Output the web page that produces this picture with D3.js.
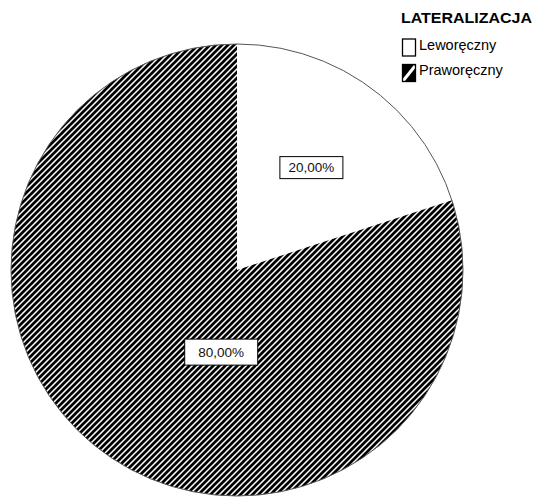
<!DOCTYPE html>
<html>
<head>
<meta charset="utf-8">
<script src="https://cdn.jsdelivr.net/npm/d3@7"></script>
<style>
  html, body { margin: 0; padding: 0; background: #fff; }
  svg { display: block; font-family: "Liberation Sans", Arial, sans-serif; }
</style>
</head>
<body>
<svg id="chart" width="536" height="497"></svg>
<script>
// Handedness split
const categories = ["Leworęczny", "Praworęczny"];
const shares = [20, 80];
const valueLabels = ["20,00%", "80,00%"];
const legendTitle = "LATERALIZACJA";

const W = 536, H = 497;
const cx = 237, cy = 270, R = 226;

const svg = d3.select("#chart");
const defs = svg.append("defs");

// Diagonal hatch used for the right-handed slice
const hatch = defs.append("pattern")
  .attr("id", "hatch")
  .attr("patternUnits", "userSpaceOnUse")
  .attr("width", 6).attr("height", 6);
hatch.append("rect").attr("width", 6).attr("height", 6).attr("fill", "#fff");
hatch.append("path")
  .attr("d", "M-1.5,1.5 l3,-3 M-0.5,6.5 l7,-7 M4.5,7.5 l3,-3")
  .attr("stroke", "#000").attr("stroke-width", 2.7);

// Coarser hatch for the small legend swatch
const hatchBig = defs.append("pattern")
  .attr("id", "hatchBig")
  .attr("patternUnits", "userSpaceOnUse")
  .attr("x", 402).attr("y", 64)
  .attr("width", 14).attr("height", 18);
hatchBig.append("rect").attr("width", 14).attr("height", 18).attr("fill", "#000");
hatchBig.append("path")
  .attr("d", "M1,17 L13,2")
  .attr("stroke", "#fff").attr("stroke-width", 3);

const fills = d3.scaleOrdinal().domain(categories).range(["#fff", "url(#hatch)"]);

const pie = d3.pie().sort(null).value(d => d.value);
const arcs = pie(categories.map((c, i) => ({ cat: c, value: shares[i], label: valueLabels[i] })));
const arc = d3.arc().innerRadius(0).outerRadius(R);

const g = svg.append("g").attr("transform", `translate(${cx},${cy})`);

g.selectAll("path.slice")
  .data(arcs)
  .join("path")
  .attr("class", "slice")
  .attr("d", arc)
  .attr("fill", d => fills(d.data.cat))
  .attr("stroke", "none");

// thin outline around the pie
g.append("circle").attr("r", R).attr("fill", "none")
  .attr("stroke", "#555").attr("stroke-width", 1);

// Value labels in boxes
const labelSpec = [
  { r: 0.56, w: 63, h: 22 },
  { r: 0.37, w: 73, h: 26 }
];
arcs.forEach((d, i) => {
  const spec = labelSpec[i];
  // first label sits on the slice's mid-angle, the big one just below centre
  const a = i === 0 ? (d.startAngle + d.endAngle) / 2 : Math.PI + 0.19;
  const px = Math.sin(a) * R * spec.r;
  const py = -Math.cos(a) * R * spec.r;
  const lg = g.append("g").attr("transform", `translate(${px},${py})`);
  lg.append("rect")
    .attr("x", -spec.w / 2).attr("y", -spec.h / 2)
    .attr("width", spec.w).attr("height", spec.h)
    .attr("fill", "#fff").attr("stroke", "#000").attr("stroke-width", 1);
  lg.append("text")
    .attr("text-anchor", "middle").attr("dy", "0.36em")
    .attr("font-size", 13.5).attr("fill", "#111")
    .text(d.data.label);
});

// Legend
const leg = svg.append("g");
leg.append("text")
  .attr("x", 401).attr("y", 23)
  .attr("font-size", 14).attr("font-weight", "bold")
  .attr("textLength", 131).attr("lengthAdjust", "spacingAndGlyphs")
  .attr("fill", "#000")
  .text(legendTitle);

const legendFills = ["#fff", "url(#hatchBig)"];
categories.forEach((c, i) => {
  const y0 = 39 + i * 25.5;
  leg.append("rect")
    .attr("x", 402.5).attr("y", y0)
    .attr("width", 13).attr("height", 17)
    .attr("fill", legendFills[i]).attr("stroke", "#000").attr("stroke-width", 1.3);
  leg.append("text")
    .attr("x", 419).attr("y", y0 + 10.5)
    .attr("font-size", 14.5).attr("fill", "#000")
    .text(c);
});
</script>
</body>
</html>
